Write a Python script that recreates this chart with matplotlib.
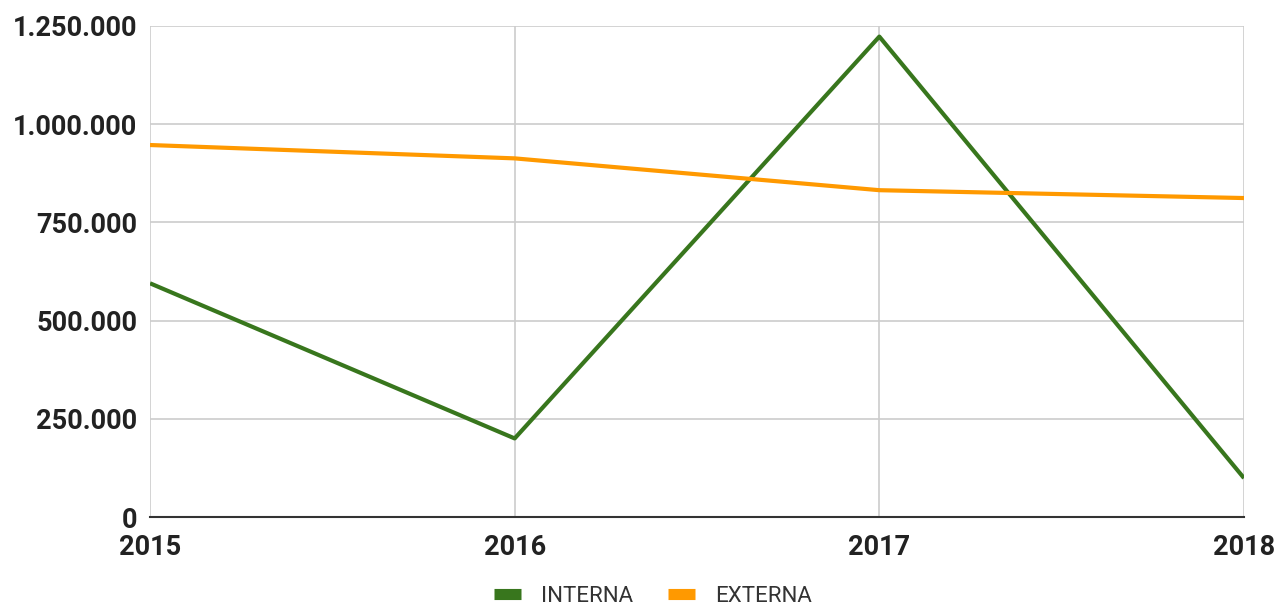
import matplotlib
matplotlib.use("Agg")
import matplotlib.pyplot as plt
from matplotlib.ticker import FuncFormatter

# datos
years = [2015, 2016, 2017, 2018]
interna = [595000, 200000, 1223000, 99000]
externa = [947000, 913000, 832000, 812000]
y_ticks = [0, 250000, 500000, 750000, 1000000, 1250000]

plt.rcParams['font.family'] = ['Roboto', 'DejaVu Sans']

fig = plt.figure(figsize=(12.78, 6.06), dpi=100)
ax = fig.add_axes([150 / 1278, 89 / 606, 1094 / 1278, 491 / 606])

ax.plot(years, interna, color='#38761d', lw=3, label='INTERNA', solid_capstyle='butt')
ax.plot(years, externa, color='#ff9900', lw=3, label='EXTERNA', solid_capstyle='butt')

ax.set_xlim(years[0], years[-1])
ax.set_ylim(0, 1250000)
ax.set_xticks(years)
ax.set_yticks(y_ticks)
ax.yaxis.set_major_formatter(FuncFormatter(lambda v, p: f'{int(v):,}'.replace(',', '.')))

ax.grid(True, color='#cccccc', lw=1.2)
ax.set_axisbelow(True)
for s in ['top', 'right', 'left']:
    ax.spines[s].set_visible(False)
ax.spines['bottom'].set_color('#333333')
ax.spines['bottom'].set_linewidth(1.5)
ax.spines['bottom'].set_zorder(5)
ax.tick_params(length=0, labelsize=19.5, labelcolor='#222222')
ax.tick_params(axis='y', pad=9)
ax.tick_params(axis='x', pad=12)
for lab in ax.get_xticklabels() + ax.get_yticklabels():
    lab.set_fontweight('bold')

leg = fig.legend(loc='center', bbox_to_anchor=(0.5 + 14 / 1278, 1 - 596 / 606), ncol=2,
                 frameon=False, fontsize=16, handlelength=1.2, columnspacing=1.6,
                 handletextpad=0.9)
for h in leg.get_lines():
    h.set_linewidth(8)
    h.set_solid_capstyle('butt')
for t in leg.get_texts():
    t.set_color('#333333')

fig.savefig('out.png', dpi=100)
